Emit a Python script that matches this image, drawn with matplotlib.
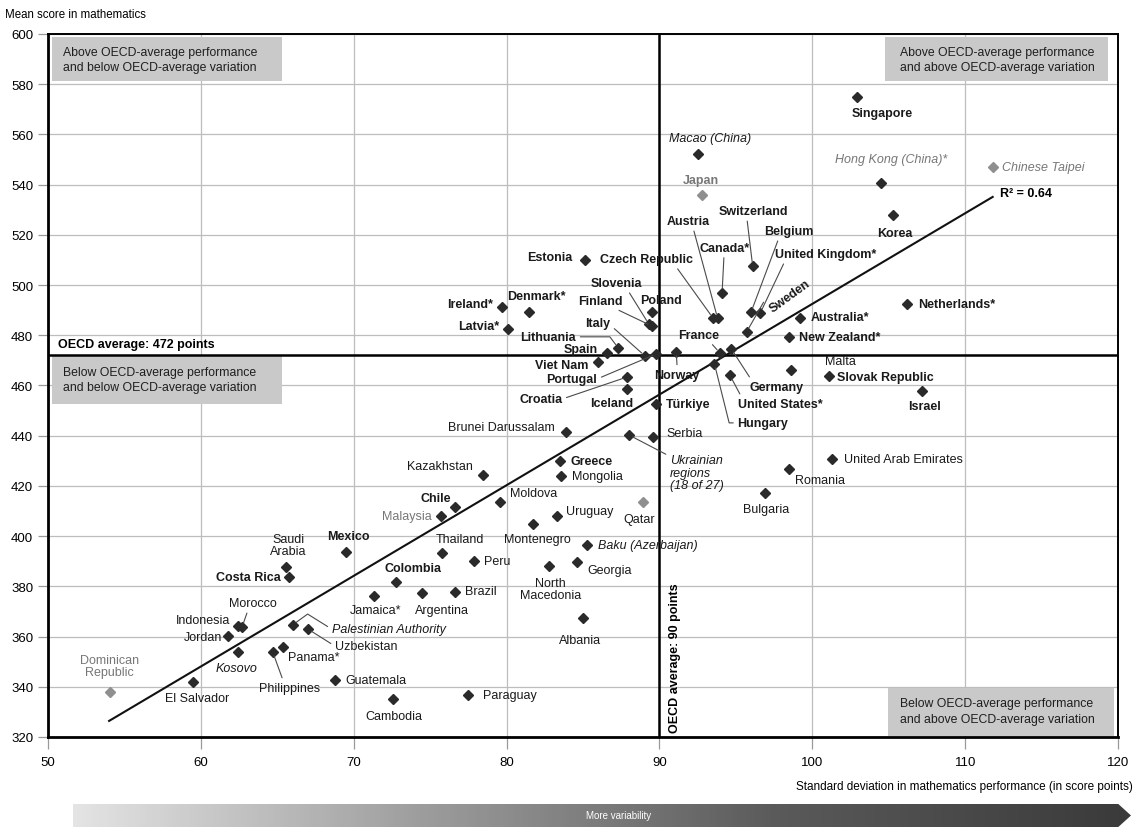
import numpy as np
import matplotlib
matplotlib.use('Agg')
import matplotlib.pyplot as plt
from matplotlib.patches import Rectangle, Polygon
from matplotlib.colors import LinearSegmentedColormap

plt.rcParams['font.family'] = ['Liberation Sans', 'DejaVu Sans']

# ---- data: SD of maths performance (x) and mean score (y)
countries = ['Singapore', 'Macao (China)', 'Chinese Taipei', 'Hong Kong (China)*', 'Japan',
             'Korea', 'Estonia', 'Switzerland', 'Canada*', 'Netherlands*', 'Ireland*',
             'Denmark*', 'Belgium', 'United Kingdom*', 'Poland', 'Austria', 'Czech Republic',
             'Australia*', 'Slovenia', 'Finland', 'Latvia*', 'Sweden', 'New Zealand*',
             'Lithuania', 'Germany', 'France', 'Spain', 'Norway', 'Italy', 'Portugal',
             'Viet Nam', 'Hungary', 'Malta', 'United States*', 'Slovak Republic', 'Croatia',
             'Iceland', 'Israel', 'Türkiye', 'Brunei Darussalam', 'Ukrainian regions',
             'Serbia', 'United Arab Emirates', 'Greece', 'Romania', 'Kazakhstan', 'Mongolia',
             'Bulgaria', 'Qatar', 'Moldova', 'Chile', 'Malaysia', 'Uruguay', 'Montenegro',
             'Baku (Azerbaijan)', 'Mexico', 'Thailand', 'Peru', 'Georgia', 'Saudi Arabia',
             'North Macedonia', 'Costa Rica', 'Colombia', 'Brazil', 'Argentina', 'Jamaica*',
             'Albania', 'Palestinian Authority', 'Indonesia', 'Morocco', 'Uzbekistan',
             'Jordan', 'Panama*', 'Philippines', 'Kosovo', 'Guatemala', 'El Salvador',
             'Dominican Republic', 'Paraguay', 'Cambodia']

sd_math = [102.9, 92.5, 111.8, 104.5, 92.8,
           105.3, 85.1, 96.1, 94.1, 106.2, 79.7,
           81.5, 96.0, 96.6, 89.5, 93.8, 93.5,
           99.2, 89.3, 89.5, 80.1, 95.7, 98.5,
           87.3, 94.7, 93.95, 86.6, 91.1, 89.05, 89.8,
           86.0, 93.6, 98.6, 94.6, 101.1, 87.9,
           87.9, 107.2, 89.8, 83.9, 88.0,
           89.6, 101.3, 83.5, 98.5, 78.45, 83.55,
           96.9, 88.9, 79.6, 76.6, 75.7, 83.3, 81.7,
           85.25, 69.5, 75.8, 77.9, 84.6, 65.6,
           82.8, 65.75, 72.8, 76.6, 74.5, 71.3,
           85.0, 66.0, 62.4, 62.7, 67.0,
           61.8, 65.4, 64.7, 62.4, 68.8, 59.5,
           54.05, 77.5, 72.6]

mean_math = [575, 552, 547, 540.5, 536,
             528, 510, 507.6, 497, 492.5, 491.3,
             489.3, 489.3, 488.9, 489.3, 486.9, 486.9,
             486.9, 484.5, 483.7, 482.5, 481.3, 479.3,
             475, 474.6, 473, 473, 473.4, 471.8, 472.6,
             469.4, 468.6, 466.2, 464.2, 463.8, 463.4,
             458.6, 457.8, 452.6, 441.5, 440.3,
             439.5, 430.7, 429.9, 426.8, 424.4, 424.0,
             417.2, 413.6, 413.6, 411.6, 408.0, 408.0, 404.9,
             396.5, 393.7, 393.3, 390.1, 389.7, 387.7,
             388.1, 383.7, 381.8, 377.8, 377.4, 376.2,
             367.4, 364.6, 364.2, 363.8, 363.0,
             360.3, 355.9, 353.9, 353.9, 342.7, 341.9,
             338.0, 336.8, 335.2]

oecd_mean = 472
oecd_sd = 90
trend_x = [54.0, 111.8]
trend_y = [326.4, 535.1]

gray_markers = ['Japan', 'Chinese Taipei', 'Qatar', 'Dominican Republic']
gray_text = ['Japan', 'Chinese Taipei', 'Hong Kong (China)*', 'Malaysia', 'Dominican Republic']
italic = ['Macao (China)', 'Chinese Taipei', 'Hong Kong (China)*', 'Ukrainian regions',
          'Baku (Azerbaijan)', 'Palestinian Authority', 'Kosovo']
bold = ['Singapore', 'Korea', 'Japan', 'Estonia', 'Switzerland', 'Canada*', 'Netherlands*',
        'Ireland*', 'Denmark*', 'Belgium', 'United Kingdom*', 'Poland', 'Austria',
        'Czech Republic', 'Australia*', 'Slovenia', 'Finland', 'Latvia*', 'Sweden',
        'New Zealand*', 'Lithuania', 'Germany', 'France', 'Spain', 'Norway', 'Italy',
        'Portugal', 'Viet Nam', 'Hungary', 'United States*', 'Slovak Republic', 'Croatia',
        'Iceland', 'Israel', 'Türkiye', 'Greece', 'Chile', 'Mexico', 'Costa Rica', 'Colombia']
display = {'Saudi Arabia': 'Saudi\nArabia', 'North Macedonia': 'North\nMacedonia',
           'Dominican Republic': 'Dominican\nRepublic',
           'Ukrainian regions': 'Ukrainian\nregions\n(18 of 27)'}

# label placement: ha, dx, dy (pixels, up is +), leader (None / relpos / (relpos, connection))
lab = {
    'Singapore': ('left', -5, -16, None), 'Macao (China)': ('center', 12, 16, None),
    'Japan': ('center', -1, 15, None), 'Chinese Taipei': ('left', 9, 0, None),
    'Hong Kong (China)*': ('center', 10, 24, None), 'Korea': ('center', 2, -18, None),
    'Estonia': ('right', -12, 3, None),
    'Switzerland': ('center', 1, 55, (0.4, 0)), 'Belgium': ('center', 38, 81, (0.3, 0)),
    'United Kingdom*': ('left', 15, 59, (0.1, 0)), 'Austria': ('center', -29, 97, (0.6, 0)),
    'Czech Republic': ('center', -66, 59, (0.8, 0)), 'Canada*': ('center', 2, 45, (0.5, 0)),
    'Slovenia': ('center', -32, 41, (0.7, 0)), 'Poland': ('center', 9, 12, None),
    'Finland': ('center', -51, 25, (0.75, 0)), 'Denmark*': ('center', 7, 16, None),
    'Ireland*': ('right', -9, 3, None), 'Latvia*': ('right', -9, 3, None),
    'Lithuania': ('right', -42, 11, ((1, 0.5), 'angle,angleA=0,angleB=127,rad=0')),
    'Italy': ('center', -47, 33, (1, 0.3)), 'Spain': ('right', -10, 4, None),
    'Viet Nam': ('right', -10, -3, None), 'Portugal': ('right', -59, -25, (1, 0.5)),
    'Croatia': ('right', -65, -22, (1, 0.5)), 'Iceland': ('center', -16, -14, None),
    'France': ('center', -21, 18, (0.75, 0)), 'Norway': ('center', 1, -23, (0.5, 1)),
    'Sweden': ('left', 24, 22, (0, 0.5)), 'Germany': ('left', 18, -38, (0.05, 1)),
    'United States*': ('left', 8, -29, (0.05, 1)),
    'Hungary': ('left', 23, -59, ((0, 0.5), 'angle,angleA=0,angleB=104,rad=0')),
    'Australia*': ('left', 11, 1, None), 'New Zealand*': ('left', 10, 0, None),
    'Netherlands*': ('left', 11, 0, None), 'Malta': ('left', 34, 9, None),
    'Slovak Republic': ('left', 8, -1, None), 'Israel': ('center', 2, -15, None),
    'United Arab Emirates': ('left', 12, 0, None), 'Romania': ('left', 6, -11, None),
    'Bulgaria': ('center', 1, -16, None), 'Türkiye': ('left', 10, 0, None),
    'Serbia': ('left', 13, 4, None), 'Ukrainian regions': ('left', 41, -38, (0, 0.95)),
    'Brunei Darussalam': ('right', -11, 5, None), 'Greece': ('left', 10, 0, None),
    'Mongolia': ('left', 11, 0, None), 'Kazakhstan': ('right', -10, 9, None),
    'Moldova': ('left', 10, 9, None), 'Chile': ('center', -19, 9, None),
    'Malaysia': ('right', -9, 0, None), 'Uruguay': ('left', 9, 5, None),
    'Qatar': ('center', -3, -17, None), 'Montenegro': ('center', 5, -15, None),
    'Thailand': ('center', 18, 14, None), 'Peru': ('left', 10, 0, None),
    'Baku (Azerbaijan)': ('left', 11, 0, None), 'Georgia': ('left', 10, -8, None),
    'North Macedonia': ('center', 1, -23, None), 'Mexico': ('center', 2, 16, None),
    'Saudi Arabia': ('center', 2, 22, None), 'Costa Rica': ('right', -8, 0, None),
    'Colombia': ('center', 17, 14, None), 'Brazil': ('left', 10, 1, None),
    'Argentina': ('center', 19, -17, None), 'Jamaica*': ('center', 2, -14, None),
    'Albania': ('center', -3, -22, None),
    'Palestinian Authority': ('left', 39, -4, ((0, 0.5), 'angle,angleA=148,angleB=36,rad=0')),
    'Indonesia': ('right', -7, 6, None), 'Morocco': ('center', 11, 24, (0.4, 0)),
    'Uzbekistan': ('left', 27, -17, (0, 0.5)), 'Jordan': ('right', -6, -1, None),
    'Panama*': ('left', 5, -10, None), 'Philippines': ('center', 17, -36, (0.4, 1)),
    'Kosovo': ('center', -1, -16, None), 'Guatemala': ('left', 10, 0, None),
    'El Salvador': ('center', 4, -16, None), 'Dominican Republic': ('center', 0, 26, None),
    'Paraguay': ('left', 15, 0, None), 'Cambodia': ('center', 0, -17, None),
}

dark = '#2a2a2a'
grey = '#8f8f8f'

fig = plt.figure(figsize=(11.42, 8.29), dpi=100)
ax = fig.add_axes([0.042, 0.1098, 0.937, 0.848])
ax.set_xlim(50, 120)
ax.set_ylim(320, 600)

ax.set_xticks(np.arange(50, 121, 10))
ax.set_yticks(np.arange(320, 601, 20))
ax.grid(True, color='#bdbdbd', lw=0.9)
ax.set_axisbelow(True)
ax.tick_params(axis='y', length=7.2, width=0.9, color='#9a9a9a', pad=3.5, labelsize=9.5)
ax.tick_params(axis='x', length=8.6, width=0.9, color='#9a9a9a', pad=5, labelsize=9.5)
for s, w in zip(['left', 'bottom', 'top', 'right'], [2.0, 2.0, 1.4, 1.4]):
    ax.spines[s].set_linewidth(w)
    ax.spines[s].set_color('black')

'OECD average lines'
ax.axhline(oecd_mean, color='black', lw=1.8, zorder=2)
ax.axvline(oecd_sd, color='black', lw=1.8, zorder=2)

'quadrant boxes (axes fraction)'
boxes = [((0.0037, 0.933), 0.215, 0.063, 'Above OECD-average performance\nand below OECD-average variation', 0.014, 0.964, 'left'),
         ((0.782, 0.933), 0.2087, 0.063, 'Above OECD-average performance\nand above OECD-average variation', 0.887, 0.964, 'center'),
         ((0.0037, 0.4737), 0.215, 0.0697, 'Below OECD-average performance\nand below OECD-average variation', 0.014, 0.509, 'left'),
         ((0.785, 0.0014), 0.211, 0.0683, 'Below OECD-average performance\nand above OECD-average variation', 0.796, 0.037, 'left')]
for xy, w, h, txt, tx, ty, ha in boxes:
    ax.add_patch(Rectangle(xy, w, h, transform=ax.transAxes, facecolor='#c9c9c9',
                           edgecolor='none', zorder=1))
    ax.text(tx, ty, txt, transform=ax.transAxes, ha=ha, va='center', fontsize=8.8,
            color='#1e1e1e', linespacing=1.35, zorder=3)

ax.text(0.009, oecd_mean + 2.3, 'OECD average: 472 points', transform=ax.get_yaxis_transform(),
        ha='left', va='bottom', fontsize=9, fontweight='bold', zorder=3)
ax.text(oecd_sd + 1.05, 0.007, 'OECD average: 90 points', transform=ax.get_xaxis_transform(),
        ha='center', va='bottom', rotation=90, fontsize=9, fontweight='bold', zorder=3)

'trend line'
ax.plot(trend_x, trend_y, color='#111111', lw=1.5, zorder=3)
ax.text(trend_x[1] + 0.5, trend_y[1] + 1.5, 'R² = 0.64', ha='left', va='center',
        fontsize=9, fontweight='bold')

'markers'
for name, x, y in zip(countries, sd_math, mean_math):
    c = grey if name in gray_markers else dark
    ax.plot(x, y, marker='D', ms=5.6, color=c, mec=c, ls='none', zorder=5)

'labels'
for name, x, y in zip(countries, sd_math, mean_math):
    ha, dx, dy, lead = lab[name]
    props = None
    if lead is not None:
        if isinstance(lead[0], tuple):
            rel, conn = lead
        else:
            rel, conn = lead, 'arc3'
        props = dict(arrowstyle='-', color='#4a4a4a', lw=0.8, relpos=rel,
                     connectionstyle=conn, shrinkA=1, shrinkB=3)
    ax.annotate(display.get(name, name), (x, y), xytext=(dx, dy), textcoords='offset pixels',
                ha=ha, va='center', multialignment=ha, fontsize=9, linespacing=1.05,
                fontweight='bold' if name in bold else 'normal',
                style='italic' if name in italic else 'normal',
                color='#777777' if name in gray_text else '#1a1a1a',
                rotation=36 if name == 'Sweden' else 0,
                rotation_mode='anchor', arrowprops=props, zorder=6)

fig.text(0.004, 1 - 15 / 829, 'Mean score in mathematics', fontsize=8.3, va='center', ha='left')
fig.text(0.992, 1 - 787 / 829, 'Standard deviation in mathematics performance (in score points)',
         fontsize=8.5, va='center', ha='right')

'bottom arrow with gradient'
ax2 = fig.add_axes([73 / 1142, 1 / 829, (1131 - 73) / 1142, 23 / 829])
ax2.set_xlim(0, 1)
ax2.set_ylim(0, 1)
ax2.axis('off')
arrow_cmap = LinearSegmentedColormap.from_list('arr', ['#e4e4e4', '#9c9c9c', '#5a5a5a', '#3a3a3a'])
grad = np.linspace(0, 1, 256).reshape(1, -1)
im = ax2.imshow(grad, cmap=arrow_cmap, extent=[0, 1, 0, 1], aspect='auto')
arrow = Polygon([(0, 0), (0.988, 0), (1, 0.5), (0.988, 1), (0, 1)], closed=True,
                transform=ax2.transData, facecolor='none', edgecolor='none')
ax2.add_patch(arrow)
im.set_clip_path(arrow)
ax2.text(0.516, 0.5, 'More variability', color='white', fontsize=7, ha='center', va='center')

fig.savefig('out.png', dpi=100)
